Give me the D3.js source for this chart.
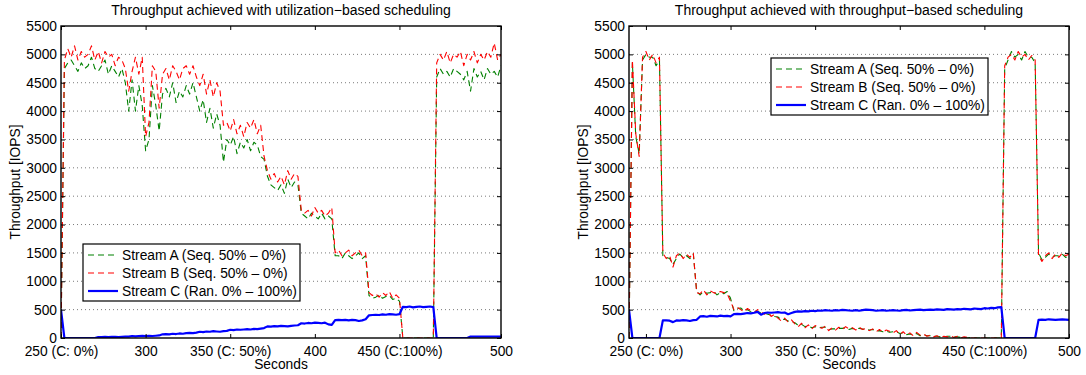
<!DOCTYPE html>
<html>
<head>
<meta charset="utf-8">
<script src="https://cdn.jsdelivr.net/npm/d3@7"></script>
<style>
  html, body { margin: 0; padding: 0; background: #fff; }
  svg text { font-family: "Liberation Sans", Arial, Helvetica, sans-serif; fill: #000; }
</style>
</head>
<body>
<svg id="fig" width="1086" height="375"></svg>
<script>
// ---- Utilization-based scheduling run (samples every 2 s, 250..510) ----
const utilStart = 250, utilStep = 2;
const utilStreamA = [
  0, 4750, 4850, 4900, 4800, 4700, 4850, 4750, 4800, 4950,
  4750, 4700, 4800, 4900, 4650, 4800, 4700, 4600, 4750, 4500,
  4000, 4550, 4000, 4450, 4100, 3300, 3500, 4450, 4100, 3650,
  4300, 4400, 4250, 4500, 4150, 4350, 4250, 4450, 4300, 4500,
  4250, 4000, 4200, 3800, 4050, 3700, 3950, 3750, 3100, 3500,
  3400, 3550, 3250, 3450, 3350, 3500, 3300, 3450, 3400, 3200,
  3150, 2850, 2700, 2650, 2600, 2700, 2550, 2800, 2650, 2750,
  2700, 2200, 2150, 2100, 2200, 2150, 2100, 2200, 2100, 2150,
  2100, 1450, 1450, 1400, 1500, 1450, 1400, 1450, 1500, 1400,
  1450, 750, 700, 720, 760, 700, 730, 750, 680, 700,
  650, 0, 0, 0, 0, 0, 0, 0, 0, 0,
  0, 4600, 4750, 4650, 4700, 4600, 4750, 4700, 4650, 4550,
  4700, 4350, 4750, 4600, 4700, 4550, 4750, 4650, 4700, 4600,
  4800
];
const utilStreamB = [
  0, 4900, 5100, 4950, 5150, 4900, 5050, 4950, 5000, 5150,
  4900, 5050, 4850, 5050, 4950, 5000, 4800, 4950, 4900, 4750,
  4350, 4700, 4950, 4650, 4950, 3550, 3800, 4800, 4700, 4050,
  4650, 4750, 4550, 4800, 4700, 4550, 4750, 4800, 4650, 4800,
  4600, 4450, 4650, 4300, 4550, 4250, 4500, 4350, 3750, 3800,
  3650, 3850, 3600, 3750, 3550, 3800, 3700, 3850, 3600, 3750,
  3200, 2950, 2800, 2900, 2750, 2850, 2700, 2950, 2800, 2900,
  2850, 2250, 2200, 2250, 2150, 2300, 2200, 2250, 2150, 2200,
  2300, 1500, 1550, 1450, 1500, 1550, 1450, 1500, 1550, 1450,
  1500, 800, 750, 780, 720, 800, 750, 820, 700, 760,
  700, 0, 0, 0, 0, 0, 0, 0, 0, 0,
  0, 4850, 5000, 4900, 5050, 4850, 5000, 4950, 5050, 4800,
  5000, 4900, 5050, 4850, 5000, 4900, 5050, 4950, 5200, 4900,
  5000
];
const utilStreamC = [
  500, 0, 0, 0, 0, 0, 0, 0, 0, 0,
  0, 15, 15, 20, 15, 20, 20, 15, 20, 25,
  25, 35, 30, 35, 40, 35, 40, 35, 40, 45,
  65, 70, 65, 75, 70, 80, 75, 85, 90, 85,
  95, 110, 105, 115, 110, 120, 115, 110, 120, 125,
  145, 140, 150, 145, 150, 155, 150, 160, 155, 165,
  175, 205, 200, 210, 205, 215, 210, 205, 215, 220,
  225, 260, 255, 265, 260, 270, 265, 260, 270, 240,
  230, 315, 320, 315, 320, 310, 320, 315, 300, 310,
  330, 400, 405, 410, 405, 415, 410, 420, 415, 410,
  420, 550, 545, 555, 540, 550, 555, 545, 550, 555,
  545, 0, 0, 0, 0, 0, 0, 0, 0, 0,
  0, 25, 25, 25, 25, 25, 25, 25, 25, 25,
  25
];

// ---- Throughput-based scheduling run (samples every 2 s, 240..500) ----
const tputStart = 240, tputStep = 2;
const tputStreamA = [
  0, 4850, 3550, 3250, 4900, 5000, 4950, 4950, 4800, 4900,
  1450, 1420, 1400, 1300, 1400, 1480, 1420, 1450, 1400, 1480,
  820, 760, 820, 790, 800, 820, 760, 800, 780, 820,
  700, 480, 520, 530, 480, 500, 460, 480, 470, 440,
  440, 420, 400, 380, 370, 320, 330, 300, 290, 270,
  220, 240, 200, 210, 180, 200, 180, 190, 190, 150,
  160, 160, 170, 170, 180, 150, 170, 160, 170, 160,
  150, 140, 150, 120, 130, 110, 120, 100, 110, 110,
  80, 90, 60, 70, 50, 80, 40, 60, 40, 40,
  30, 30, 20, 20, 30, 30, 20, 20, 10, 10,
  0, 10, 0, 0, 0, 0, 0, 0, 0, 0,
  0, 4750, 4900, 5050, 4950, 5000, 4900, 5050, 4950, 4950,
  4850, 1500, 1380, 1420, 1480, 1430, 1450, 1450, 1480, 1420,
  1450
];
const tputStreamB = [
  0, 4900, 3600, 3200, 4950, 5050, 4900, 5000, 4850, 4950,
  1500, 1400, 1450, 1250, 1450, 1500, 1400, 1480, 1420, 1500,
  800, 780, 850, 760, 830, 800, 780, 820, 800, 780,
  650, 500, 540, 500, 460, 520, 480, 450, 500, 460,
  420, 460, 380, 420, 350, 300, 350, 280, 320, 250,
  200, 260, 180, 230, 160, 220, 200, 170, 210, 130,
  180, 140, 190, 150, 200, 160, 180, 140, 190, 150,
  170, 130, 160, 110, 150, 100, 140, 120, 90, 130,
  60, 110, 50, 90, 40, 100, 50, 70, 30, 50,
  20, 40, 10, 30, 20, 40, 10, 30, 0, 20,
  10, 0, 0, 0, 0, 0, 0, 0, 0, 0,
  0, 4800, 4950, 5000, 4900, 5050, 4950, 5000, 4900, 4980,
  4900, 1450, 1350, 1450, 1500, 1400, 1480, 1420, 1500, 1450,
  1480
];
const tputStreamC = [
  500, 0, 0, 0, 0, 0, 0, 0, 0, 0,
  310, 310, 305, 280, 310, 305, 315, 310, 300, 315,
  320, 380, 385, 375, 390, 385, 380, 395, 385, 390,
  380, 420, 425, 420, 430, 440, 435, 445, 460, 410,
  440, 450, 445, 450, 455, 445, 450, 420, 440, 460,
  470, 465, 475, 470, 480, 475, 485, 480, 490, 485,
  480, 490, 485, 495, 490, 485, 480, 490, 480, 490,
  500, 495, 490, 480, 485, 490, 480, 485, 490, 485,
  480, 490, 495, 485, 490, 495, 500, 490, 495, 500,
  495, 505, 500, 495, 510, 505, 500, 510, 505, 515,
  510, 505, 520, 515, 510, 525, 520, 530, 525, 540,
  545, 0, 0, 0, 0, 0, 0, 0, 0, 0,
  0, 320, 325, 320, 330, 325, 320, 325, 330, 325,
  320
];

// ---- Axis ticks and labels ----
const yTickValues = [0, 500, 1000, 1500, 2000, 2500, 3000, 3500, 4000, 4500, 5000, 5500];
const utilXTicks = [250, 300, 350, 400, 450, 510];
const tputXTicks = [250, 300, 350, 400, 450, 500];
const xTickLabels = ["250 (C: 0%)", "300", "350 (C: 50%)", "400", "450 (C:100%)", "500"];
const legendLabels = ["Stream A (Seq. 50% \u2013 0%)", "Stream B (Seq. 50% \u2013 0%)", "Stream C (Ran. 0% \u2013 100%)"];
const seriesColors = ["#008000", "#ff0000", "#0000ff"];

const svg = d3.select("#fig");
const FONT = 13.8;

function drawPanel(p) {
  const x = d3.scaleLinear().domain(p.xDomain).range([p.left, p.right]);
  const y = d3.scaleLinear().domain([0, 5500]).range([p.bottom, p.top]);
  const g = svg.append("g");
  const clipId = "clip-" + p.id;
  svg.append("clipPath").attr("id", clipId)
    .append("rect").attr("x", p.left).attr("y", p.top)
    .attr("width", p.right - p.left).attr("height", p.bottom - p.top);

  // horizontal dotted grid
  g.append("g").selectAll("line")
    .data(yTickValues.filter(v => v > 0 && v < 5500))
    .join("line")
    .attr("x1", p.left).attr("x2", p.right)
    .attr("y1", d => y(d)).attr("y2", d => y(d))
    .attr("stroke", "#7a7a7a").attr("stroke-width", 1)
    .attr("stroke-dasharray", "1,3");

  // series
  const times = p.series[0].map((_, i) => p.start + i * p.step);
  const line = d3.line().x((d, i) => x(times[i])).y(d => y(d));
  const lines = g.append("g").attr("clip-path", `url(#${clipId})`);
  p.series.forEach((vals, k) => {
    lines.append("path")
      .attr("d", line(vals))
      .attr("fill", "none")
      .attr("stroke", seriesColors[k])
      .attr("stroke-width", k === 2 ? 2.2 : 1.1)
      .attr("stroke-dasharray", k === 2 ? null : "6,4")
      .attr("stroke-linejoin", "round");
  });

  // axes: inward ticks on all four sides
  const bottomAxis = d3.axisBottom(x).tickValues(p.xTicks)
    .tickFormat((d, i) => xTickLabels[i]).tickSize(-4).tickPadding(8);
  const topAxis = d3.axisTop(x).tickValues(p.xTicks).tickFormat("").tickSize(-4);
  const leftAxis = d3.axisLeft(y).tickValues(yTickValues)
    .tickFormat(d3.format("d")).tickSize(-4).tickPadding(4);
  const rightAxis = d3.axisRight(y).tickValues(yTickValues).tickFormat("").tickSize(-4);

  const styleAxis = sel => {
    sel.select(".domain").remove();
    sel.selectAll("line").attr("stroke", "#000").attr("stroke-width", 1);
    sel.selectAll("text").attr("font-size", FONT).attr("fill", "#000")
      .attr("font-family", "Liberation Sans, Arial, sans-serif");
  };
  g.append("g").attr("transform", `translate(0,${p.bottom})`).call(bottomAxis).call(styleAxis);
  g.append("g").attr("transform", `translate(0,${p.top})`).call(topAxis).call(styleAxis);
  g.append("g").attr("transform", `translate(${p.left},0)`).call(leftAxis).call(styleAxis);
  g.append("g").attr("transform", `translate(${p.right},0)`).call(rightAxis).call(styleAxis);

  // axes box
  g.append("rect")
    .attr("x", p.left).attr("y", p.top)
    .attr("width", p.right - p.left).attr("height", p.bottom - p.top)
    .attr("fill", "none").attr("stroke", "#000").attr("stroke-width", 1.4);

  // titles
  const cx = (p.left + p.right) / 2;
  g.append("text").attr("x", cx).attr("y", 15).attr("text-anchor", "middle")
    .attr("font-size", 14).text(p.title);
  g.append("text").attr("x", cx).attr("y", 369).attr("text-anchor", "middle")
    .attr("font-size", FONT).text("Seconds");
  g.append("text")
    .attr("transform", `translate(${p.left - 41},${(p.top + p.bottom) / 2}) rotate(-90)`)
    .attr("text-anchor", "middle").attr("font-size", FONT).text("Throughput [IOPS]");

  // legend
  const lg = g.append("g").attr("transform", `translate(${p.legend[0]},${p.legend[1]})`);
  lg.append("rect").attr("width", 217).attr("height", 57)
    .attr("fill", "#fff").attr("stroke", "#000").attr("stroke-width", 1.2);
  legendLabels.forEach((lab, k) => {
    const cy = 11 + k * 18;
    lg.append("line").attr("x1", 5).attr("x2", 35).attr("y1", cy).attr("y2", cy)
      .attr("stroke", seriesColors[k])
      .attr("stroke-width", k === 2 ? 2.2 : 1.1)
      .attr("stroke-dasharray", k === 2 ? null : "6,4");
    lg.append("text").attr("x", 39).attr("y", cy + 5).attr("font-size", FONT).text(lab);
  });
}

drawPanel({
  id: "util", title: "Throughput achieved with utilization\u2212based scheduling",
  left: 61, right: 501, top: 26, bottom: 338,
  xDomain: [250, 510], xTicks: utilXTicks,
  start: utilStart, step: utilStep,
  series: [utilStreamA, utilStreamB, utilStreamC],
  legend: [83, 244]
});

drawPanel({
  id: "tput", title: "Throughput achieved with throughput\u2212based scheduling",
  left: 629, right: 1069, top: 26, bottom: 338,
  xDomain: [240, 500], xTicks: tputXTicks,
  start: tputStart, step: tputStep,
  series: [tputStreamA, tputStreamB, tputStreamC],
  legend: [771, 58]
});
</script>
</body>
</html>
